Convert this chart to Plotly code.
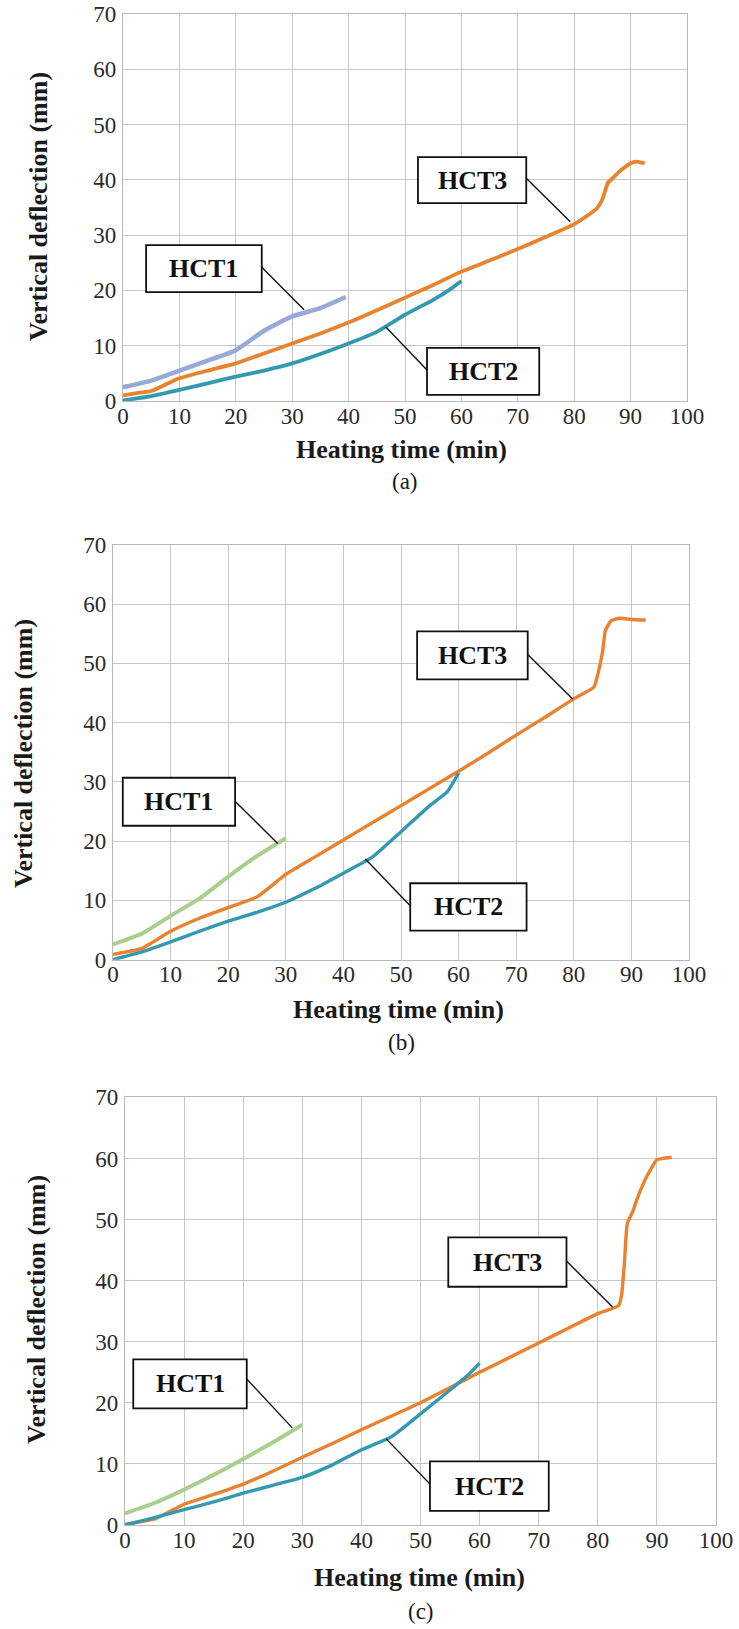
import plotly.graph_objects as go

# ---------------- data ----------------
# Panel (a)
a_hct1_x = [0, 5, 10, 15, 20, 25, 30, 35, 39.5]
a_hct1_y = [2.5, 3.7, 5.5, 7.3, 9.2, 12.7, 15.3, 16.8, 18.8]
a_hct2_x = [0, 5, 10, 15, 20, 25, 30, 35, 40, 45, 50, 55, 58, 60]
a_hct2_y = [0.1, 0.9, 2.0, 3.2, 4.4, 5.5, 6.8, 8.5, 10.4, 12.5, 15.6, 18.3, 20.2, 21.7]
a_hct3_x = [0, 3, 5, 8, 10, 15, 20, 25, 30, 35, 40, 45, 50, 55, 60, 65, 70, 75, 80,
            83, 84, 85, 86, 87, 88, 89, 90, 91, 92.5]
a_hct3_y = [1.0, 1.5, 1.8, 3.2, 4.1, 5.5, 6.8, 8.6, 10.4, 12.2, 14.2, 16.4, 18.7, 21.0,
            23.4, 25.4, 27.5, 29.7, 32.0, 34.0, 34.8, 36.5, 39.5, 40.5, 41.5, 42.3, 43.0,
            43.3, 43.0]

# Panel (b)
b_hct1_x = [0, 5, 10, 15, 20, 25, 30]
b_hct1_y = [2.6, 4.4, 7.4, 10.3, 14.0, 17.5, 20.5]
b_hct2_x = [0, 5, 10, 15, 20, 25, 30, 35, 40, 45, 50, 55, 58, 60]
b_hct2_y = [0.0, 1.3, 3.0, 4.8, 6.5, 8.0, 9.7, 12.0, 14.6, 17.3, 21.6, 26.0, 28.3, 31.5]
b_hct3_x = [0, 5, 10, 15, 20, 25, 30, 35, 40, 45, 50, 55, 60, 65, 70, 75, 80, 83.5,
            84, 85, 85.5, 86.5, 88, 90, 92.5]
b_hct3_y = [0.9, 1.9, 4.8, 7.0, 8.8, 10.6, 14.4, 17.3, 20.2, 23.1, 26.0, 28.9, 31.8,
            34.8, 37.9, 40.9, 44.0, 46.0, 47.5, 52.0, 55.6, 57.2, 57.6, 57.4, 57.3]

# Panel (c)
c_hct1_x = [0, 5, 10, 15, 20, 25, 30]
c_hct1_y = [1.9, 3.6, 5.8, 8.2, 10.8, 13.5, 16.4]
c_hct2_x = [0, 5, 10, 15, 20, 25, 30, 35, 40, 45, 50, 55, 58, 60]
c_hct2_y = [0.0, 1.2, 2.5, 3.8, 5.2, 6.5, 7.8, 9.8, 12.3, 14.4, 18.2, 22.1, 24.5, 26.5]
c_hct3_x = [0, 5, 10, 15, 20, 25, 30, 35, 40, 45, 50, 55, 60, 65, 70, 75, 80, 83.5,
            84, 84.5, 85, 86, 86.5, 88, 89, 90, 91, 92.5]
c_hct3_y = [0.1, 1.0, 3.4, 5.0, 6.7, 8.8, 11.1, 13.3, 15.6, 17.8, 20.0, 22.5, 25.0,
            27.4, 29.8, 32.2, 34.6, 35.9, 37.5, 42.8, 49.4, 51.5, 53.0, 56.5, 58.3,
            59.8, 60.0, 60.2]

x_ticks = [0, 10, 20, 30, 40, 50, 60, 70, 80, 90, 100]
y_ticks = [0, 10, 20, 30, 40, 50, 60, 70]
series_names = ["HCT1", "HCT2", "HCT3"]
captions = ["(a)", "(b)", "(c)"]

# ---------------- styles / layout ----------------
FONT = "Liberation Serif, Times New Roman, DejaVu Serif, serif"
ORANGE = "#E8822F"
TEAL = "#3399B0"
HCT1_COLORS = ["#96A9D8", "#A9CF8C", "#A9CF8C"]

W, H = 739, 1629
panels = [
    dict(xd=[123 / W, 687 / W], yd=[1 - 401 / H, 1 - 14 / H],
         data=[(a_hct3_x, a_hct3_y), (a_hct1_x, a_hct1_y), (a_hct2_x, a_hct2_y)],
         w1=4.5, w=3.8,
         boxes={"HCT1": (4.1, 24.6, 19.7, 28.2, (24.6, 24.2), (32.1, 16.5)),
                "HCT3": (52.3, 71.5, 35.8, 44.1, (71.5, 40.3), (79.3, 32.4)),
                "HCT2": (53.9, 73.8, 1.1, 9.6, (53.9, 5.6), (46.6, 13.4))},
         xtitle=(401, 450), cap=(405, 481), ytitle=(38, 207)),
    dict(xd=[113 / W, 689 / W], yd=[1 - 959.7 / H, 1 - 544.8 / H],
         data=[(b_hct3_x, b_hct3_y), (b_hct1_x, b_hct1_y), (b_hct2_x, b_hct2_y)],
         w1=4.0, w=3.4,
         boxes={"HCT1": (1.7, 21.2, 22.6, 30.7, (21.1, 26.8), (28.6, 19.6)),
                "HCT3": (52.8, 72.0, 47.3, 55.4, (72.0, 51.5), (79.8, 44.0)),
                "HCT2": (51.6, 71.8, 4.9, 12.9, (51.6, 9.1), (43.8, 17.0))},
         xtitle=(398, 1009), cap=(401, 1042), ytitle=(24, 754)),
    dict(xd=[125 / W, 716 / W], yd=[1 - 1525 / H, 1 - 1097.4 / H],
         data=[(c_hct3_x, c_hct3_y), (c_hct1_x, c_hct1_y), (c_hct2_x, c_hct2_y)],
         w1=4.0, w=3.4,
         boxes={"HCT1": (1.4, 20.6, 19.1, 27.1, (20.6, 23.9), (28.3, 15.9)),
                "HCT3": (54.7, 74.7, 39.0, 47.1, (74.7, 43.2), (82.5, 35.7)),
                "HCT2": (51.6, 71.7, 2.3, 10.4, (51.6, 6.7), (44.2, 14.1))},
         xtitle=(419, 1577), cap=(421, 1611), ytitle=(36, 1310)),
]

fig = go.Figure()
annotations = []
shapes = []
layout = {}

for i, p in enumerate(panels):
    sfx = "" if i == 0 else str(i + 1)
    xa, ya = "x" + sfx, "y" + sfx
    colors = [ORANGE, HCT1_COLORS[i], TEAL]
    widths = [p["w"], p["w1"], p["w"]]
    for (xs, ys), c, lw in zip(p["data"], colors, widths):
        fig.add_trace(go.Scatter(x=xs, y=ys, mode="lines",
                                 line=dict(color=c, width=lw, shape="spline",
                                           smoothing=0.5),
                                 xaxis=xa, yaxis=ya, showlegend=False,
                                 hoverinfo="skip"))
    common = dict(showgrid=True, gridcolor="#C6C6C6", gridwidth=1.3,
                  showline=True, linecolor="#B8B8B8", linewidth=1.3, mirror=True,
                  zeroline=False, ticks="", automargin=False,
                  tickfont=dict(family=FONT, size=23, color="#2a2a2a"))
    layout["xaxis" + sfx] = dict(common, domain=p["xd"], range=[0, 100],
                                 tickvals=x_ticks, anchor=ya, ticklabelstandoff=-6)
    layout["yaxis" + sfx] = dict(common, domain=p["yd"], range=[0, 70],
                                 tickvals=y_ticks, anchor=xa, ticklabelstandoff=1)
    for name in series_names:
        x0, x1, y0, y1, (lx0, ly0), (lx1, ly1) = p["boxes"][name]
        shapes.append(dict(type="line", xref=xa, yref=ya, x0=lx0, y0=ly0, x1=lx1, y1=ly1,
                           line=dict(color="#111111", width=1.4), layer="above"))
        shapes.append(dict(type="rect", xref=xa, yref=ya, x0=x0, x1=x1, y0=y0, y1=y1,
                           line=dict(color="#111111", width=1.8), fillcolor="white",
                           layer="above"))
        annotations.append(dict(x=(x0 + x1) / 2, y=(y0 + y1) / 2, xref=xa, yref=ya,
                                xanchor="center", yanchor="middle",
                                text="<b>" + name + "</b>", showarrow=False,
                                font=dict(family=FONT, size=26, color="#111111")))
    annotations.append(dict(x=p["xtitle"][0] / W, y=1 - p["xtitle"][1] / H,
                            xref="paper", yref="paper", showarrow=False,
                            xanchor="center", yanchor="middle",
                            text="<b>Heating time (min)</b>",
                            font=dict(family=FONT, size=26, color="#1a1a1a")))
    annotations.append(dict(x=p["cap"][0] / W, y=1 - p["cap"][1] / H,
                            xref="paper", yref="paper", showarrow=False,
                            xanchor="center", yanchor="middle",
                            text=captions[i],
                            font=dict(family=FONT, size=23, color="#1a1a1a")))
    annotations.append(dict(x=p["ytitle"][0] / W, y=1 - p["ytitle"][1] / H,
                            xref="paper", yref="paper", showarrow=False, textangle=-90,
                            xanchor="center", yanchor="middle",
                            text="<b>Vertical deflection (mm)</b>",
                            font=dict(family=FONT, size=26, color="#1a1a1a")))

fig.update_layout(**layout)
fig.update_layout(width=W, height=H, margin=dict(l=0, r=0, t=0, b=0),
                  paper_bgcolor="white", plot_bgcolor="white",
                  font=dict(family=FONT), hovermode=False,
                  annotations=annotations, shapes=shapes)

fig.write_html("out.html", config={"displayModeBar": False},
               post_script="document.body.style.margin='0px';"
                           "document.body.style.overflow='hidden';")
